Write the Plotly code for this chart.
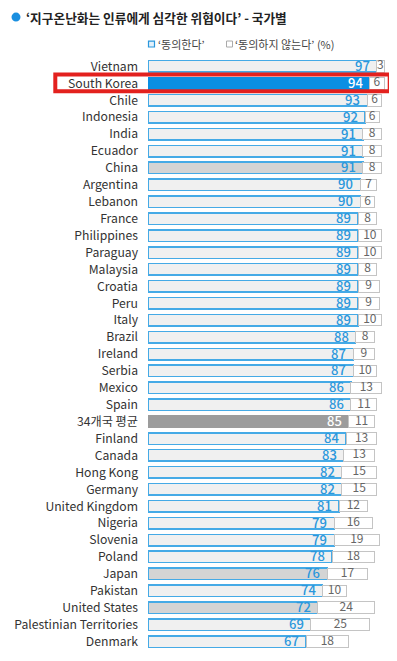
import plotly.graph_objects as go

countries = ["Vietnam", "South Korea", "Chile", "Indonesia", "India", "Ecuador", "China",
             "Argentina", "Lebanon", "France", "Philippines", "Paraguay", "Malaysia", "Croatia",
             "Peru", "Italy", "Brazil", "Ireland", "Serbia", "Mexico", "Spain", "34개국 평균",
             "Finland", "Canada", "Hong Kong", "Germany", "United Kingdom", "Nigeria", "Slovenia",
             "Poland", "Japan", "Pakistan", "United States", "Palestinian Territories", "Denmark"]
agree = [97, 94, 93, 92, 91, 91, 91, 90, 90, 89, 89, 89, 89, 89, 89, 89, 88, 87, 87, 86, 86, 85,
         84, 83, 82, 82, 81, 79, 79, 78, 76, 74, 72, 69, 67]
disagree = [3, 6, 6, 6, 8, 8, 8, 7, 6, 8, 10, 10, 8, 9, 9, 10, 8, 9, 10, 13, 11, 11,
            13, 13, 15, 15, 12, 16, 19, 18, 17, 10, 24, 25, 18]

highlight_gray = {"China", "Japan", "United States"}
BLUE = "#2a97dc"
FONT = "Noto Sans CJK KR"

# the page body has an 8px default margin; the figure is sized to compensate
OFF = 8
L = 148 - OFF
T = 57.5 - OFF
W = 397 - OFF
H = 661 - OFF
PW = W - L           # plot width in px
PH = 593             # plot height in px
PBOT = 57.5 + PH     # absolute y of plot bottom


def px_x(x):
    return (x - 148) / PW


def px_y(y):
    return (PBOT - y) / PH


fill, edge, tcol = [], [], []
for c in countries:
    if c == "South Korea":
        fill.append("#0a8fe3"); edge.append("#0a8fe3"); tcol.append("#ffffff")
    elif c == "34개국 평균":
        fill.append("#9c9c9c"); edge.append("#9c9c9c"); tcol.append("#ffffff")
    elif c in highlight_gray:
        fill.append("#d4d4d4"); edge.append("#45aae6"); tcol.append(BLUE)
    else:
        fill.append("#f0f0f0"); edge.append("#45aae6"); tcol.append(BLUE)

fig = go.Figure()
fig.add_trace(go.Bar(y=countries, x=agree, orientation="h", width=0.68,
                     marker=dict(color=fill, line=dict(color=edge, width=1.5)),
                     hoverinfo="skip", showlegend=False))
fig.add_trace(go.Bar(y=countries, x=disagree, orientation="h", width=0.68,
                     marker=dict(color="#ffffff", line=dict(color="#c4c4c4", width=1)),
                     hoverinfo="skip", showlegend=False))
fig.add_trace(go.Scatter(y=countries, x=[a + d / 2 for a, d in zip(agree, disagree)], mode="text",
                         text=[str(v) for v in disagree], textposition="middle center",
                         textfont=dict(family=FONT, size=12, color="#666666"),
                         hoverinfo="skip", showlegend=False))

annotations = [
    dict(xref="paper", yref="paper", x=px_x(24), y=px_y(17), xanchor="left",
         yanchor="middle",
         text="<b>‘지구온난화는 인류에게 심각한 위협이다’ - 국가별</b>",
         showarrow=False, font=dict(family=FONT, size=12.7, color="#222222")),
    dict(xref="paper", yref="paper", x=px_x(155.5), y=px_y(43.5), xanchor="left",
         yanchor="middle", text="‘동의한다’",
         showarrow=False, font=dict(family=FONT, size=11, color="#444444")),
    dict(xref="paper", yref="paper", x=px_x(233), y=px_y(43.5), xanchor="left",
         yanchor="middle", text="‘동의하지 않는다’ (%)",
         showarrow=False, font=dict(family=FONT, size=11, color="#444444")),
]
for c, a, col in zip(countries, agree, tcol):
    annotations.append(dict(xref="x", yref="y", x=a, y=c, xanchor="right", yanchor="middle",
                            xshift=-5, yshift=1, text=str(a), showarrow=False,
                            font=dict(family=FONT, size=13, color=col, weight=500)))

fig.update_layout(
    width=W, height=H,
    margin=dict(l=L, r=0, t=T, b=H - T - PH),
    barmode="stack", bargap=0.3,
    paper_bgcolor="white", plot_bgcolor="white",
    font=dict(family=FONT, color="#333333"),
    xaxis=dict(range=[0, PW / 2.36], visible=False, fixedrange=True),
    yaxis=dict(categoryorder="array", categoryarray=countries, range=[34.5, -0.5],
               showgrid=False, zeroline=False, showline=False, ticks="",
               ticklabelstandoff=9, tickfont=dict(family=FONT, size=12.2, color="#333333"),
               fixedrange=True),
    shapes=[
        dict(type="rect", xref="paper", yref="y", x0=px_x(55.3), x1=px_x(389.7),
             y0=1 - 0.52, y1=1 + 0.47, line=dict(color="#e3211e", width=4),
             fillcolor="rgba(0,0,0,0)", layer="above"),
        dict(type="circle", xref="paper", yref="paper", x0=px_x(11.5), x1=px_x(20.5),
             y0=px_y(21), y1=px_y(12), fillcolor="#1a8fe0", line=dict(width=0)),
        dict(type="rect", xref="paper", yref="paper", x0=px_x(148.5), x1=px_x(154.5),
             y0=px_y(46.5), y1=px_y(40.5), fillcolor="#e3f1fb",
             line=dict(color="#2a97dc", width=1.2)),
        dict(type="rect", xref="paper", yref="paper", x0=px_x(226.5), x1=px_x(232.5),
             y0=px_y(46.5), y1=px_y(40.5), fillcolor="#ffffff",
             line=dict(color="#aaaaaa", width=1)),
    ],
    annotations=annotations,
)

fig.write_html("out.html")
